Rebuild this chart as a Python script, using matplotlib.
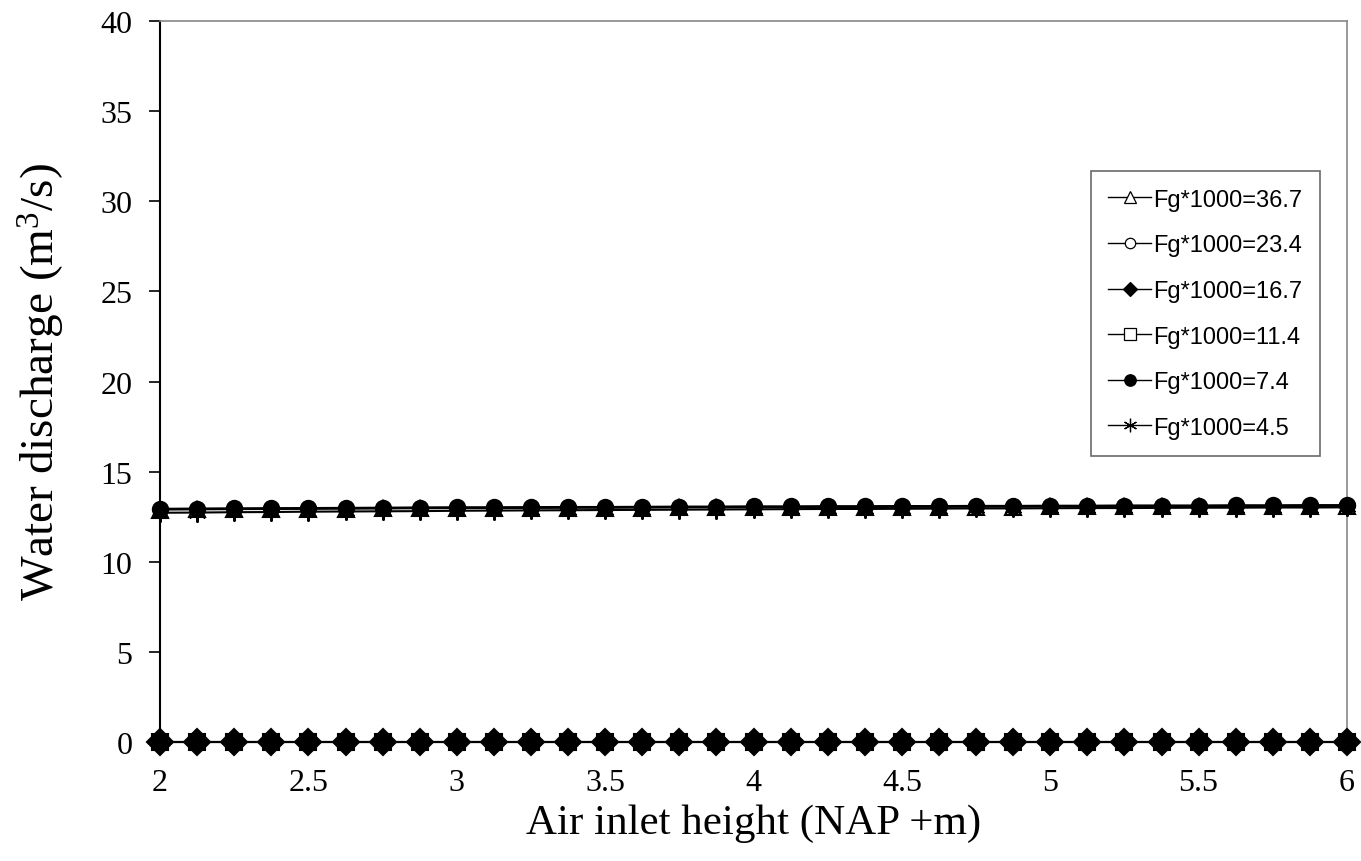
import numpy as np
import matplotlib.pyplot as plt

plt.rcParams["mathtext.fontset"] = "custom"
plt.rcParams["mathtext.rm"] = "Liberation Serif"
plt.rcParams["mathtext.it"] = "Liberation Serif:italic"

# air inlet height (NAP +m), 0.125 m steps
height = np.arange(2.0, 6.0001, 0.125)

labels = ["Fg*1000=36.7", "Fg*1000=23.4", "Fg*1000=16.7",
          "Fg*1000=11.4", "Fg*1000=7.4", "Fg*1000=4.5"]

# water discharge (m3/s) per gas flow factor
q_36_7 = [12.90, 12.91, 12.92, 12.93, 12.94, 12.95, 12.96, 12.97, 12.98, 12.98, 12.99,
          13.00, 13.00, 13.01, 13.02, 13.02, 13.03, 13.03, 13.04, 13.04, 13.05, 13.05,
          13.06, 13.06, 13.07, 13.07, 13.08, 13.08, 13.08, 13.09, 13.09, 13.10, 13.10]
q_23_4 = [12.92, 12.93, 12.94, 12.95, 12.96, 12.97, 12.98, 12.99, 13.00, 13.00, 13.01,
          13.02, 13.02, 13.03, 13.04, 13.04, 13.05, 13.05, 13.06, 13.06, 13.07, 13.07,
          13.08, 13.08, 13.09, 13.09, 13.10, 13.10, 13.10, 13.11, 13.11, 13.12, 13.12]
q_16_7 = [0.0] * 33
q_11_4 = [0.0] * 33
q_7_4 = [12.94, 12.95, 12.96, 12.97, 12.98, 12.99, 13.00, 13.01, 13.02, 13.02, 13.03,
         13.04, 13.04, 13.05, 13.06, 13.06, 13.07, 13.07, 13.08, 13.08, 13.09, 13.09,
         13.10, 13.10, 13.11, 13.11, 13.12, 13.12, 13.12, 13.13, 13.13, 13.14, 13.14]
q_4_5 = [12.72, 12.73, 12.75, 12.76, 12.78, 12.79, 12.80, 12.81, 12.83, 12.84, 12.85,
         12.86, 12.87, 12.88, 12.89, 12.90, 12.91, 12.92, 12.93, 12.93, 12.94, 12.95,
         12.96, 12.96, 12.97, 12.98, 12.98, 12.99, 13.00, 13.00, 13.01, 13.01, 13.02]

series = [q_36_7, q_23_4, q_16_7, q_11_4, q_7_4, q_4_5]
styles = [
    dict(marker="^", mfc="white", ms=11, zorder=3),
    dict(marker="o", mfc="white", ms=10, zorder=3),
    dict(marker="D", mfc="black", ms=13, zorder=4),
    dict(marker="s", mfc="white", ms=11, zorder=3),
    dict(marker="o", mfc="black", ms=11, zorder=3),
    dict(marker=(6, 2, 0), mfc="black", ms=13, zorder=3),
]

fig = plt.figure(figsize=(13.61, 8.62), dpi=100)
ax = fig.add_axes([0.1176, 0.138, 0.8721, 0.8365])

for q, lab, st in zip(series, labels, styles):
    ax.plot(height, q, color="black", lw=1.5, mec="black", mew=1.5,
            label=lab, clip_on=False, **st)

ax.set_xlim(2, 6)
ax.set_ylim(0, 40)
ax.set_xticks(np.arange(2, 6.01, 0.5))
ax.set_xticklabels(["2", "2.5", "3", "3.5", "4", "4.5", "5", "5.5", "6"])
ax.set_yticks(range(0, 41, 5))

serif = ["Liberation Serif", "DejaVu Serif"]
for t in ax.get_xticklabels() + ax.get_yticklabels():
    t.set_fontfamily(serif)
    t.set_fontsize(23)
ax.tick_params(axis="y", direction="out", length=8, width=1.2, pad=12)
ax.tick_params(axis="x", length=0, pad=19)

ax.set_xlabel("Air inlet height (NAP +m)", fontsize=31, family=serif, labelpad=4)
ax.set_ylabel("Water discharge (m$^3$/s)", fontsize=34, family=serif, labelpad=24)

for side in ["left", "bottom"]:
    ax.spines[side].set_linewidth(1.5)
for side in ["top", "right"]:
    ax.spines[side].set_color("#888888")
    ax.spines[side].set_linewidth(1.2)

leg = ax.legend(loc="upper left", bbox_to_anchor=(0.784, 0.792),
                prop={"family": "Liberation Sans", "size": 17},
                frameon=True, fancybox=False, edgecolor="#444444",
                handlelength=1.8, handletextpad=0.1, labelspacing=1.0,
                borderpad=0.75, borderaxespad=0, markerscale=0.75)
leg.get_frame().set_linewidth(1.2)
for h in leg.legend_handles:
    h.set_linewidth(1.0)
    h.set_markeredgewidth(0.9)
leg.legend_handles[2].set_markersize(7.5)
leg.legend_handles[5].set_markerfacecolor("white")
leg.set_zorder(5)

fig.savefig("out.png", dpi=100)
